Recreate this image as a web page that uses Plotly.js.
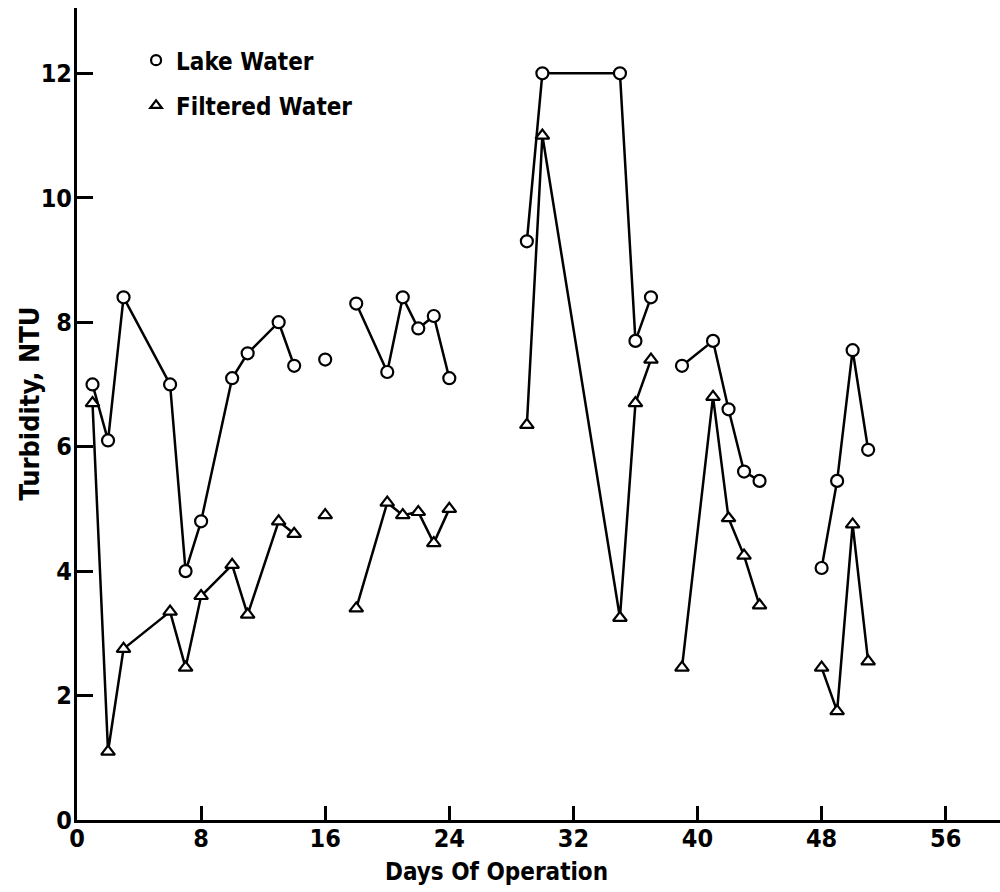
<!DOCTYPE html>
<html>
<head>
<meta charset="utf-8">
<script src="https://cdn.plot.ly/plotly-3.0.1.min.js"></script>
<style>html,body{margin:0;padding:0;background:#fff;}#chart{width:1000px;height:892px;}</style>
</head>
<body>
<div id="chart"></div>
<script>
// Days of operation (null = break between measuring runs)
var days = [1, 2, 3, 6, 7, 8, 10, 11, 13, 14, null, 16, null, 18, 20, 21, 22, 23, 24, null,
            29, 30, 35, 36, 37, null, 39, 41, 42, 43, 44, null, 48, 49, 50, 51];
var lakeWater = [7.0, 6.1, 8.4, 7.0, 4.0, 4.8, 7.1, 7.5, 8.0, 7.3, null, 7.4, null, 8.3, 7.2, 8.4, 7.9, 8.1, 7.1, null,
                 9.3, 12.0, 12.0, 7.7, 8.4, null, 7.3, 7.7, 6.6, 5.6, 5.45, null, 4.05, 5.45, 7.55, 5.95];
var filteredWater = [6.7, 1.1, 2.75, 3.35, 2.45, 3.6, 4.1, 3.3, 4.8, 4.6, null, 4.9, null, 3.4, 5.1, 4.9, 4.95, 4.45, 5.0, null,
                     6.35, 11.0, 3.25, 6.7, 7.4, null, 2.45, 6.8, 4.85, 4.25, 3.45, null, 2.45, 1.75, 4.75, 2.55];
var xTicks = [0, 8, 16, 24, 32, 40, 48, 56];
var yTicks = [0, 2, 4, 6, 8, 10, 12];
var seriesNames = ['Lake Water', 'Filtered Water'];
var xTitle = 'Days Of Operation';
var yTitle = 'Turbidity, NTU';

var FONT = 'DejaVu Sans Condensed, DejaVu Sans, sans-serif';

var lineStyle = {color: '#000', width: 2.5};
var traces = [
  {x: days, y: lakeWater, mode: 'lines+markers', connectgaps: false, showlegend: false,
   line: lineStyle, cliponaxis: false,
   marker: {symbol: 'circle', size: 12, color: '#fff', line: {color: '#000', width: 2.2}}},
  {x: days, y: filteredWater, mode: 'lines+markers', connectgaps: false, showlegend: false,
   line: lineStyle, cliponaxis: false,
   marker: {symbol: 'triangle-up', size: 12, color: '#fff', line: {color: '#000', width: 2.2}}},
  {x: [null], y: [null], mode: 'markers', name: seriesNames[0], legendgroup: 'a',
   marker: {symbol: 'circle', size: 10, color: '#fff', line: {color: '#000', width: 2.2}}},
  {x: [null], y: [null], mode: 'markers', name: seriesNames[1], legendgroup: 'b',
   marker: {symbol: 'triangle-up', size: 10, color: '#fff', line: {color: '#000', width: 2.2}}}
];

var layout = {
  width: 1000, height: 892,
  margin: {l: 77, r: 0, t: 8, b: 72},
  paper_bgcolor: '#fff', plot_bgcolor: '#fff',
  font: {family: FONT, color: '#000', size: 24, weight: 'bold'},
  showlegend: true,
  legend: {x: 0.064, y: 0.963, xanchor: 'left', yanchor: 'top', bgcolor: 'rgba(0,0,0,0)',
           font: {family: FONT, size: 24, color: '#000', weight: 'bold'},
           traceorder: 'grouped', tracegroupgap: 11, itemwidth: 30},
  xaxis: {range: [0, 59.5], tickvals: xTicks, ticktext: xTicks.map(String),
          showgrid: false, zeroline: false, showline: true, linecolor: '#000', linewidth: 3,
          ticks: 'inside', ticklen: 14, tickwidth: 3, tickcolor: '#000', ticklabelstandoff: -6,
          tickfont: {family: FONT, size: 25, color: '#000', weight: 'bold'}, fixedrange: true},
  yaxis: {range: [0, 13.05], tickvals: yTicks, ticktext: yTicks.map(String),
          showgrid: false, zeroline: false, showline: true, linecolor: '#000', linewidth: 3,
          ticks: 'inside', ticklen: 16, tickwidth: 3, tickcolor: '#000', ticklabelstandoff: -3,
          tickfont: {family: FONT, size: 25, color: '#000', weight: 'bold'}, fixedrange: true},
  annotations: [
    {text: xTitle, xref: 'paper', yref: 'paper', x: 0.455, y: -0.064, xanchor: 'center', yanchor: 'middle',
     showarrow: false, font: {family: FONT, size: 24, color: '#000', weight: 'bold'}},
    {text: yTitle, xref: 'paper', yref: 'paper', x: -0.052, y: 0.513, xanchor: 'center', yanchor: 'middle',
     textangle: -90, showarrow: false, font: {family: FONT, size: 27, color: '#000', weight: 'bold'}}
  ]
};

Plotly.newPlot('chart', traces, layout, {displayModeBar: false, staticPlot: true});
</script>
</body>
</html>
